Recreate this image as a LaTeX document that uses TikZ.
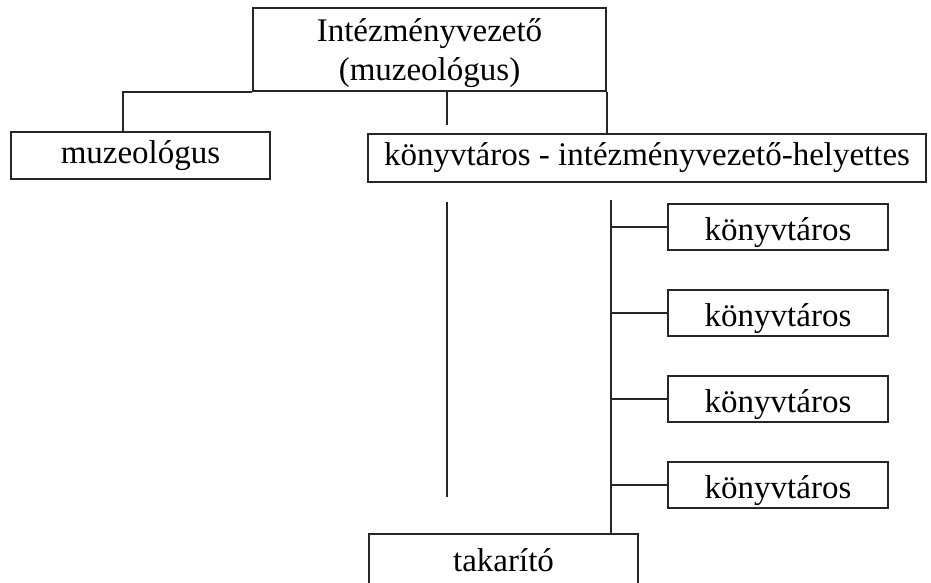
\documentclass[tikz,border=0pt]{standalone}
\usepackage{fontspec}
\setmainfont{Liberation Serif}
\usepackage{tikz}
\usetikzlibrary{positioning}
\tikzstyle{unit} = [rectangle, draw=black!85, line width=2pt, inner sep=0pt, text centered, font=\fontsize{33}{39}\selectfont]
\tikzstyle{libbox} = [unit, minimum width=220pt, minimum height=46pt, text height=28pt, text depth=2pt]
\tikzstyle{link} = [draw=black!85, line width=2pt]

\begin{document}
\begin{tikzpicture}[x=1pt, y=-1pt, node distance=38pt]
        \useasboundingbox (0,0) rectangle (931,582);
        \clip (0,0) rectangle (931,582);
        % Nodes
        \node [unit, minimum width=353pt, minimum height=83pt, align=center, text depth=0pt] (head) at (429.5,49.5) {Intézményvezető\\(muzeológus)};
        \node [unit, minimum width=259pt, minimum height=47pt] (museo) at (140.5,155.5) {muzeológus};
        \node [unit, minimum width=558pt, minimum height=48pt] (deputy) at (647,158) {könyvtáros - intézményvezető-helyettes};
        \node [libbox] (lib1) at (778,227) {könyvtáros};
        \node [libbox, below=of lib1] (lib2) {könyvtáros};
        \node [libbox, below=of lib2] (lib3) {könyvtáros};
        \node [libbox, below=of lib3] (lib4) {könyvtáros};
        \node [unit, minimum width=269pt, anchor=north, inner ysep=15pt, text height=22pt, text depth=15pt] (cleaner) at (503.5,533) {takarító};

        % Helper points
        \coordinate (leftx) at (123,0);
        \coordinate (stub) at (447,125);
        \coordinate (midtop) at (447,202);
        \coordinate (midbot) at (447,497);
        \coordinate (spine) at (611,200);

        % Lines
        \draw [link] (head.south west) -- (head.south west -| leftx) -- (leftx |- museo.north);
        \draw [link] (stub |- head.south) -- (stub);
        \draw [link] (head.south east) -- (head.south east |- deputy.north);
        \draw [link] (midtop) -- (midbot);
        \draw [link] (spine) -- (spine |- cleaner.north);
        \foreach \n in {lib1,lib2,lib3,lib4}
            \draw [link] (spine |- \n.west) -- (\n.west);
    \end{tikzpicture}
\end{document}
